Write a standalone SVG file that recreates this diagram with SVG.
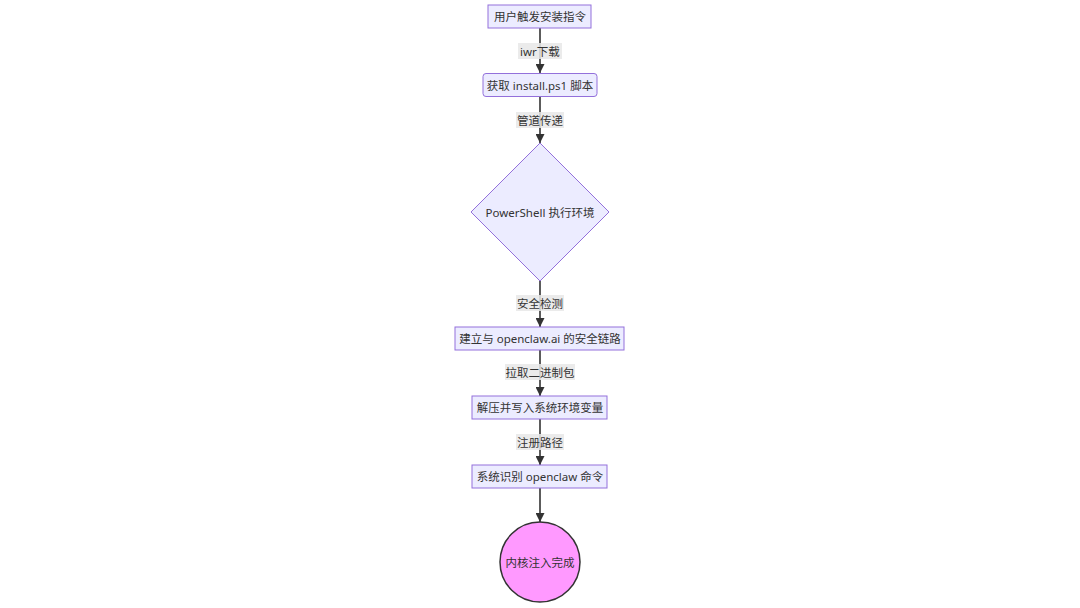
<svg xmlns="http://www.w3.org/2000/svg" width="1080" height="608" viewBox="0 0 1080 608">
<style>
.node rect,.node polygon{fill:#ECECFF;stroke:#9370DB;stroke-width:1}
.t{font-family:"Noto Sans","Noto Sans CJK SC",sans-serif;font-size:11.5px;fill:#333;text-anchor:middle;dominant-baseline:central}
.e{stroke:#333;stroke-width:1.6;fill:none}
.lb{fill:#e8e8e8;opacity:0.85}
</style>
<defs>
<marker id="ah" viewBox="0 0 10 10" refX="10" refY="5" markerWidth="6" markerHeight="6" markerUnits="userSpaceOnUse" orient="auto">
<path d="M0,0 L10,5 L0,10 z" fill="#333"/>
</marker>
<marker id="ah2" viewBox="0 0 10 10" refX="10" refY="5" markerWidth="9" markerHeight="9" markerUnits="userSpaceOnUse" orient="auto">
<path d="M0,0 L10,5 L0,10 z" fill="#333"/>
</marker>
</defs>
<rect width="1080" height="608" fill="#fff"/>
<g id="connectors">
<line class="e" x1="540" y1="28" x2="540" y2="73" marker-end="url(#ah2)"/>
<line class="e" x1="540" y1="97" x2="540" y2="143" marker-end="url(#ah2)"/>
<line class="e" x1="540" y1="281" x2="540" y2="327" marker-end="url(#ah2)"/>
<line class="e" x1="540" y1="350" x2="540" y2="396" marker-end="url(#ah2)"/>
<line class="e" x1="540" y1="419" x2="540" y2="465" marker-end="url(#ah2)"/>
<line class="e" x1="540" y1="488" x2="540" y2="522" marker-end="url(#ah2)"/>
<rect class="lb" x="518" y="43" width="44" height="16"/>
<text class="t" x="540" y="51">iwr下载</text>
<rect class="lb" x="516" y="112" width="48" height="16"/>
<text class="t" x="540" y="120">管道传递</text>
<rect class="lb" x="516" y="295" width="48" height="16"/>
<text class="t" x="540" y="303">安全检测</text>
<rect class="lb" x="505" y="364" width="70" height="16"/>
<text class="t" x="540" y="372">拉取二进制包</text>
<rect class="lb" x="516" y="434" width="48" height="16"/>
<text class="t" x="540" y="442">注册路径</text>
</g>
<g id="n1" class="node"><rect x="488" y="5" width="103" height="23"/><text class="t" x="540" y="16.5">用户触发安装指令</text></g>
<g id="n2" class="node"><rect x="483" y="73.5" width="114" height="23" rx="3"/><text class="t" x="540" y="85">获取 install.ps1 脚本</text></g>
<g id="n3" class="node"><polygon points="540,143 609,212 540,281 471,212"/><text class="t" x="540" y="212">PowerShell 执行环境</text></g>
<g id="n4" class="node"><rect x="455" y="327" width="169" height="23"/><text class="t" x="540" y="338.5">建立与 openclaw.ai 的安全链路</text></g>
<g id="n5" class="node"><rect x="472" y="396" width="135" height="23"/><text class="t" x="540" y="407.5">解压并写入系统环境变量</text></g>
<g id="n6" class="node"><rect x="472" y="465" width="135" height="23"/><text class="t" x="540" y="476.5">系统识别 openclaw 命令</text></g>
<g id="n7"><circle cx="540" cy="562" r="40" fill="#ff99ff" stroke="#333" stroke-width="1.5"/><text class="t" x="540" y="562">内核注入完成</text></g>
</svg>
